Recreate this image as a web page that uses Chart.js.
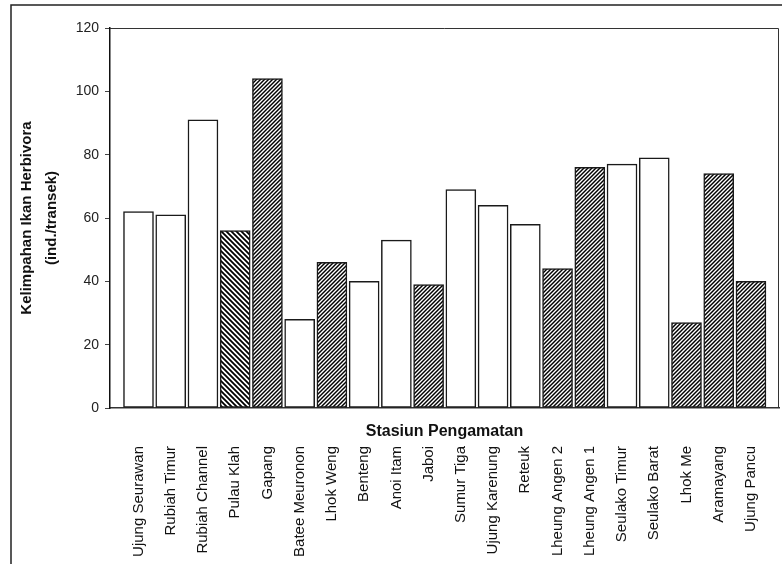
<!DOCTYPE html>
<html>
<head>
<meta charset="utf-8">
<script src="https://cdn.jsdelivr.net/npm/chart.js@4"></script>
<style>
  html, body { margin: 0; padding: 0; background: #fff; }
  #wrap { width: 782px; height: 564px; }
</style>
</head>
<body>
<div id="wrap"><canvas id="chart" width="782" height="564"></canvas></div>
<script>
const stations = ['Ujung Seurawan', 'Rubiah Timur', 'Rubiah Channel', 'Pulau Klah', 'Gapang',
  'Batee Meuronon', 'Lhok Weng', 'Benteng', 'Anoi Itam', 'Jaboi', 'Sumur Tiga',
  'Ujung Karenung', 'Reteuk', 'Lheung Angen 2', 'Lheung Angen 1', 'Seulako Timur',
  'Seulako Barat', 'Lhok Me', 'Aramayang', 'Ujung Pancu'];
const abundance = [62, 61, 91, 56, 104, 28, 46, 40, 53, 39, 69, 64, 58, 44, 76, 77, 79, 27, 74, 40];
// station group: A = open bar, B = back-hatched, C = forward-hatched
const group = ['A', 'A', 'A', 'B', 'C', 'A', 'C', 'A', 'A', 'C', 'A', 'A', 'A', 'C', 'C', 'A', 'A', 'C', 'C', 'C'];
const yMin = 0, yMax = 120, yStep = 20;

const font = '"Liberation Sans", Arial, sans-serif';

function hatch(dir, size) {
  const c = document.createElement('canvas');
  c.width = c.height = size;
  const g = c.getContext('2d');
  g.fillStyle = '#fff';
  g.fillRect(0, 0, size, size);
  g.strokeStyle = '#000';
  g.lineWidth = size * 0.36;
  g.beginPath();
  if (dir > 0) {
    g.moveTo(-1, size + 1); g.lineTo(size + 1, -1);
    g.moveTo(-1, 1); g.lineTo(1, -1);
    g.moveTo(size - 1, size + 1); g.lineTo(size + 1, size - 1);
  } else {
    g.moveTo(-1, -1); g.lineTo(size + 1, size + 1);
    g.moveTo(size - 1, -1); g.lineTo(size + 1, 1);
    g.moveTo(-1, size - 1); g.lineTo(1, size + 1);
  }
  g.stroke();
  return g.createPattern(c, 'repeat');
}

const fills = { A: '#ffffff', B: hatch(-1, 5), C: hatch(1, 4) };

const frame = {
  id: 'frame',
  afterDraw(chart) {
    const { ctx, chartArea: a } = chart;
    ctx.save();
    // plot box top + right
    ctx.strokeStyle = '#333';
    ctx.lineWidth = 1;
    ctx.beginPath();
    ctx.moveTo(a.left, a.top + 0.5);
    ctx.lineTo(a.right - 0.5, a.top + 0.5);
    ctx.lineTo(a.right - 0.5, a.bottom);
    ctx.stroke();
    // outer frame
    ctx.strokeStyle = '#222';
    ctx.lineWidth = 1.5;
    ctx.beginPath();
    ctx.moveTo(11, chart.height);
    ctx.lineTo(11, 5);
    ctx.lineTo(chart.width, 5);
    ctx.stroke();
    // x title sits between axis and rotated labels
    ctx.font = 'bold 16px ' + font;
    ctx.fillStyle = '#111';
    ctx.textAlign = 'center';
    ctx.textBaseline = 'middle';
    ctx.fillText('Stasiun Pengamatan', (a.left + a.right) / 2, a.bottom + 24);
    ctx.restore();
  }
};

new Chart(document.getElementById('chart'), {
  type: 'bar',
  data: {
    datasets: [{
      data: abundance.map((v, i) => ({ x: i, y: v })),
      backgroundColor: group.map(g => fills[g]),
      borderColor: '#1a1a1a',
      borderWidth: 1.5,
      borderSkipped: false,
      barThickness: 30
    }]
  },
  options: {
    responsive: false,
    animation: false,
    layout: { padding: { top: 28, right: 3, left: 0, bottom: 0 } },
    plugins: { legend: { display: false }, tooltip: { enabled: false } },
    scales: {
      x: {
        type: 'linear',
        offset: false,
        bounds: 'data',
        min: -0.884,
        max: 19.87,
        grid: { display: false, drawTicks: false },
        border: { display: true, color: '#333', width: 1.5 },
        afterBuildTicks: s => { s.ticks = stations.map((_, i) => ({ value: i })); },
        ticks: {
          autoSkip: false,
          minRotation: 90,
          maxRotation: 90,
          padding: 38,
          color: '#111',
          font: { family: font, size: 15 },
          callback: (v, i) => stations[i]
        },
        afterFit: s => { s.height = 156; s.paddingLeft = 0; s.paddingRight = 0; }
      },
      y: {
        min: yMin,
        max: yMax,
        grid: { drawOnChartArea: false, drawTicks: true, tickLength: 5, color: '#444' },
        border: { display: true, color: '#111', width: 1.5 },
        ticks: { stepSize: yStep, padding: 6, color: '#222', font: { family: font, size: 14 } },
        title: {
          display: true,
          text: ['Kelimpahan Ikan Herbivora', '(ind./transek)'],
          color: '#111',
          font: { family: font, size: 15, weight: 'bold', lineHeight: '25px' },
          padding: { top: 14, bottom: 0 }
        },
        afterFit: s => { s.width = 110; }
      }
    }
  },
  plugins: [frame]
});
</script>
</body>
</html>
